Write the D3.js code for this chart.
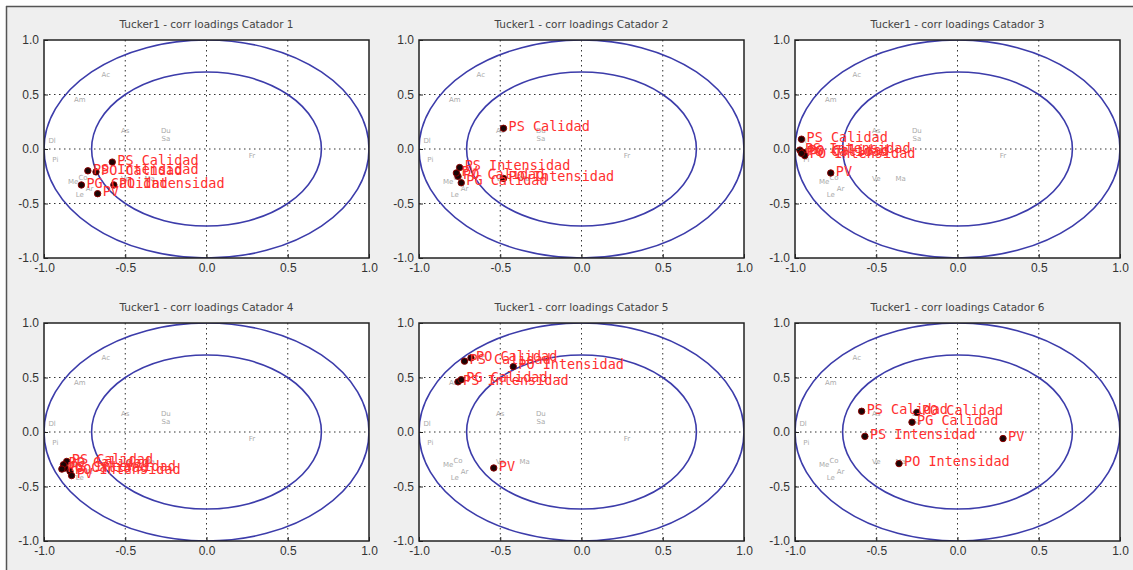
<!DOCTYPE html>
<html>
<head>
<meta charset="utf-8">
<title>Tucker1 - corr loadings</title>
<script src="https://d3js.org/d3.v7.min.js"></script>
<style>
  body { margin: 0; background: #fff; font-family: "DejaVu Sans", sans-serif; }
  .tick text { font-size: 12px; fill: #333; }
  .title { font-size: 10.5px; fill: #444; }
  .lab { font-family: "DejaVu Sans Mono", monospace; font-size: 13.5px; fill: #ff3030; }
  .gray { font-size: 7px; fill: #aaa; }
</style>
</head>
<body>
<svg width="1133" height="570"></svg>
<script>
// panel titles
const titles = ["Tucker1 - corr loadings Catador 1", "Tucker1 - corr loadings Catador 2",
  "Tucker1 - corr loadings Catador 3", "Tucker1 - corr loadings Catador 4",
  "Tucker1 - corr loadings Catador 5", "Tucker1 - corr loadings Catador 6"];

// highlighted variables (red labels)
const varNames = ["PS Calidad", "PS Intensidad", "PO Calidad", "PO Intensidad", "PG Calidad", "PV"];

// correlation loadings per catador (PC1, PC2), same order as varNames
const cat1X = [-0.58, -0.73, -0.68, -0.57, -0.77, -0.67];
const cat1Y = [-0.12, -0.20, -0.21, -0.33, -0.33, -0.41];
const cat2X = [-0.48, -0.75, -0.76, -0.48, -0.74, -0.77];
const cat2Y = [0.19, -0.17, -0.25, -0.27, -0.31, -0.22];
const cat3X = [-0.96, -0.97, -0.95, -0.94, -0.96, -0.78];
const cat3Y = [0.09, -0.01, -0.03, -0.06, -0.04, -0.22];
const cat4X = [-0.86, -0.87, -0.88, -0.84, -0.89, -0.83];
const cat4Y = [-0.27, -0.33, -0.30, -0.36, -0.34, -0.40];
const cat5X = [-0.72, -0.76, -0.68, -0.42, -0.74, -0.54];
const cat5Y = [0.65, 0.46, 0.68, 0.60, 0.48, -0.33];
const cat6X = [-0.59, -0.57, -0.25, -0.36, -0.28, 0.28];
const cat6Y = [0.19, -0.04, 0.18, -0.29, 0.09, -0.06];

// remaining (grey) variables, identical in every panel
const otherNames = ["Ac", "Am", "As", "Du", "Sa", "Fr", "Dl", "Pi", "Me", "Co", "Ar", "Le", "Ve", "Ma"];
const otherX = [-0.62, -0.78, -0.50, -0.25, -0.25, 0.28, -0.95, -0.93, -0.82, -0.76, -0.72, -0.78, -0.50, -0.35];
const otherY = [0.68, 0.45, 0.17, 0.17, 0.10, -0.06, 0.08, -0.10, -0.30, -0.26, -0.36, -0.42, -0.27, -0.27];

const ticks = [-1.0, -0.5, 0.0, 0.5, 1.0];
const radii = [1.0, Math.SQRT1_2];

const panels = [[cat1X, cat1Y], [cat2X, cat2Y], [cat3X, cat3Y], [cat4X, cat4Y], [cat5X, cat5Y], [cat6X, cat6Y]];

const svg = d3.select("svg");

// figure background and frame
svg.append("rect").attr("x", 6).attr("y", 6).attr("width", 1127).attr("height", 564).attr("fill", "#efefef");
svg.append("line").attr("x1", 6).attr("x2", 1133).attr("y1", 6.5).attr("y2", 6.5).attr("stroke", "#555").attr("stroke-width", 1.5);
svg.append("line").attr("x1", 6.5).attr("x2", 6.5).attr("y1", 6).attr("y2", 570).attr("stroke", "#555").attr("stroke-width", 1.5);

const lefts = [44, 419, 795];
const tops = [40, 323];
const w = 325, h = 218;

panels.forEach((p, i) => {
  const left = lefts[i % 3], top = tops[Math.floor(i / 3)];
  const x = d3.scaleLinear().domain([-1, 1]).range([left, left + w]);
  const y = d3.scaleLinear().domain([-1, 1]).range([top + h, top]);

  const g = svg.append("g");
  g.append("rect").attr("x", left).attr("y", top).attr("width", w).attr("height", h).attr("fill", "#fff");

  const clipId = "clip" + i;
  g.append("clipPath").attr("id", clipId).append("rect")
    .attr("x", left).attr("y", top).attr("width", w).attr("height", h);
  const inner = g.append("g").attr("clip-path", "url(#" + clipId + ")");

  // dotted grid
  [-0.5, 0, 0.5].forEach(v => {
    inner.append("line").attr("x1", x(v)).attr("x2", x(v)).attr("y1", top).attr("y2", top + h)
      .attr("stroke", "#333").attr("stroke-dasharray", "1.5,3.5");
    inner.append("line").attr("x1", left).attr("x2", left + w).attr("y1", y(v)).attr("y2", y(v))
      .attr("stroke", "#333").attr("stroke-dasharray", "1.5,3.5");
  });

  // circles of 50% and 100% explained variance
  radii.forEach(r => {
    inner.append("ellipse").attr("cx", x(0)).attr("cy", y(0))
      .attr("rx", x(r) - x(0)).attr("ry", y(0) - y(r))
      .attr("fill", "none").attr("stroke", "#3c3caa").attr("stroke-width", 1.6);
  });

  // grey variables
  inner.selectAll(".gray").data(otherNames).enter().append("text")
    .attr("class", "gray")
    .attr("x", (d, j) => x(otherX[j]))
    .attr("y", (d, j) => y(otherY[j]))
    .attr("text-anchor", "middle").attr("dy", "0.35em")
    .text(d => d);

  // highlighted variables
  const [xs, ys] = p;
  inner.selectAll(".pt").data(varNames).enter().append("circle")
    .attr("class", "pt")
    .attr("cx", (d, j) => x(xs[j]))
    .attr("cy", (d, j) => y(ys[j]))
    .attr("r", 3.2).attr("fill", "#1a0505").attr("stroke", "#8a0000").attr("stroke-width", 1);
  inner.selectAll(".lab").data(varNames).enter().append("text")
    .attr("class", "lab")
    .attr("x", (d, j) => x(xs[j]) + 5)
    .attr("y", (d, j) => y(ys[j]))
    .attr("dy", "0.2em")
    .text(d => d);

  // axes
  const ax = g.append("g").attr("transform", "translate(0," + (top + h) + ")")
    .call(d3.axisBottom(x).tickValues(ticks).tickFormat(d => d.toFixed(1)).tickSizeInner(-4).tickSizeOuter(0).tickPadding(5));
  const ay = g.append("g").attr("transform", "translate(" + left + ",0)")
    .call(d3.axisLeft(y).tickValues(ticks).tickFormat(d => d.toFixed(1)).tickSizeInner(-4).tickSizeOuter(0).tickPadding(5));
  [ax, ay].forEach(a => { a.select(".domain").remove(); a.selectAll("line").attr("stroke", "#222"); });

  g.append("rect").attr("x", left).attr("y", top).attr("width", w).attr("height", h)
    .attr("fill", "none").attr("stroke", "#222").attr("stroke-width", 1.5);

  g.append("text").attr("class", "title")
    .attr("x", left + w / 2).attr("y", top - 12)
    .attr("text-anchor", "middle").text(titles[i]);
});
</script>
</body>
</html>
